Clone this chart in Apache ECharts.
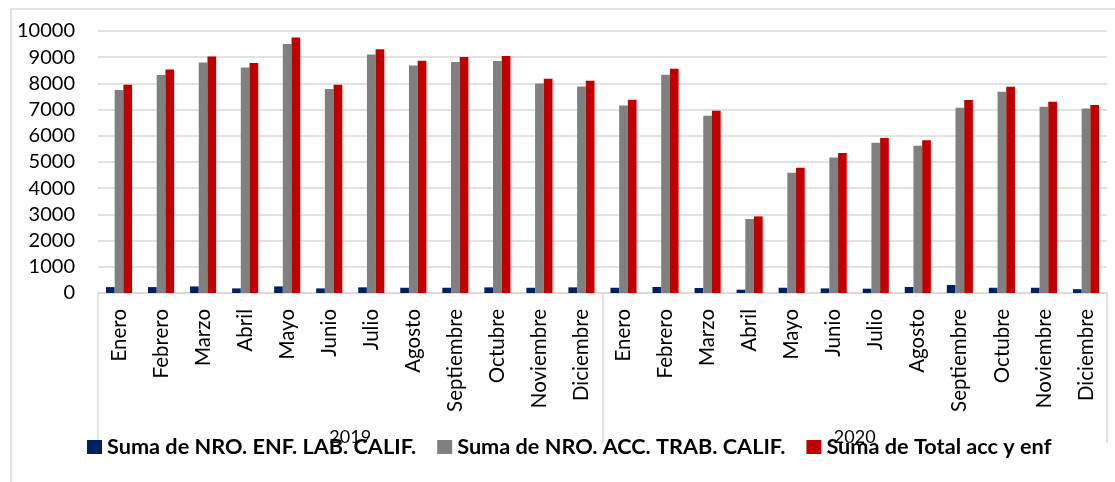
<!DOCTYPE html>
<html>
<head>
<meta charset="utf-8">
<script src="https://cdn.jsdelivr.net/npm/echarts@6/dist/echarts.min.js"></script>
<style>
html,body{margin:0;padding:0;background:#fff;}
#c{width:1115px;height:482px;}
</style>
</head>
<body>
<div id="c"></div>
<script>
const months = ['Enero','Febrero','Marzo','Abril','Mayo','Junio','Julio','Agosto','Septiembre','Octubre','Noviembre','Diciembre',
                'Enero','Febrero','Marzo','Abril','Mayo','Junio','Julio','Agosto','Septiembre','Octubre','Noviembre','Diciembre'];
const years = ['2019','2020'];
const yTicks = [0,1000,2000,3000,4000,5000,6000,7000,8000,9000,10000];
const seriesNames = ['Suma de NRO. ENF. LAB. CALIF.','Suma de NRO. ACC. TRAB. CALIF.','Suma de Total acc y enf'];
const enfLab = [225,225,250,176,252,176,216,200,200,216,200,216,
                200,229,190,127,200,176,165,229,305,200,200,146];
const accTrab = [7748,8320,8802,8611,9504,7786,9107,8687,8817,8855,8000,7886,
                 7160,8332,6767,2824,4592,5176,5737,5622,7073,7684,7111,7046];
const totalAccEnf = [7950,8535,9031,8779,9756,7950,9305,8866,9008,9046,8180,8103,
                     7378,8561,6958,2924,4782,5344,5916,5826,7366,7874,7302,7176];

const FONT = 'Lato';
const GRID = {left:98, right:8, top:31, bottom:189};
const chart = echarts.init(document.getElementById('c'), null, {renderer:'canvas'});
chart.setOption({
  animation:false,
  backgroundColor:'#fff',
  textStyle:{fontFamily:FONT},
  graphic:[{type:'rect', shape:{x:11,y:9,width:1200,height:600}, style:{fill:'none', stroke:'#d9d9d9', lineWidth:1.5}, silent:true, z:-10}],
  legend:{
    left:87, top:436, padding:0, itemWidth:15, itemHeight:14, itemGap:21,
    icon:'rect',
    textStyle:{fontFamily:FONT, fontWeight:'bold', fontSize:21.7, lineHeight:22, color:'#000', padding:[0,0,0,0]},
    data:seriesNames
  },
  grid:[Object.assign({}, GRID), Object.assign({}, GRID)],
  xAxis:[
    {type:'category', gridIndex:0, data:months, position:'bottom',
     axisLine:{show:true, lineStyle:{color:'#d9d9d9', width:1.5}},
     axisTick:{show:false},
     axisLabel:{interval:0, rotate:90, margin:16, fontFamily:FONT, fontSize:20.5, color:'#000'}},
    {type:'category', gridIndex:1, data:years, position:'bottom',
     axisLine:{show:false},
     axisTick:{show:true, length:150, lineStyle:{color:'#d9d9d9', width:1.5}},
     axisLabel:{interval:0, margin:135, fontFamily:FONT, fontSize:18, color:'#000'}}
  ],
  yAxis:[
    {type:'value', gridIndex:0, min:0, max:10000, interval:1000,
     axisLine:{show:false}, axisTick:{show:false},
     axisLabel:{margin:23, fontFamily:FONT, fontSize:20, color:'#000',
       formatter:(v)=> yTicks.includes(v) ? String(v) : ''},
     splitLine:{lineStyle:{color:'#d9d9d9', width:1.5}}},
    {type:'value', gridIndex:1, min:0, max:10000, show:false, splitLine:{show:false}}
  ],
  series:[
    {name:seriesNames[0], type:'bar', xAxisIndex:0, yAxisIndex:0, data:enfLab, barWidth:8.7, barGap:'0%', itemStyle:{color:'#002060'}},
    {name:seriesNames[1], type:'bar', xAxisIndex:0, yAxisIndex:0, data:accTrab, barWidth:8.7, barGap:'0%', itemStyle:{color:'#808080'}},
    {name:seriesNames[2], type:'bar', xAxisIndex:0, yAxisIndex:0, data:totalAccEnf, barWidth:8.7, barGap:'0%', itemStyle:{color:'#c00000'}}
  ]
});
</script>
</body>
</html>
